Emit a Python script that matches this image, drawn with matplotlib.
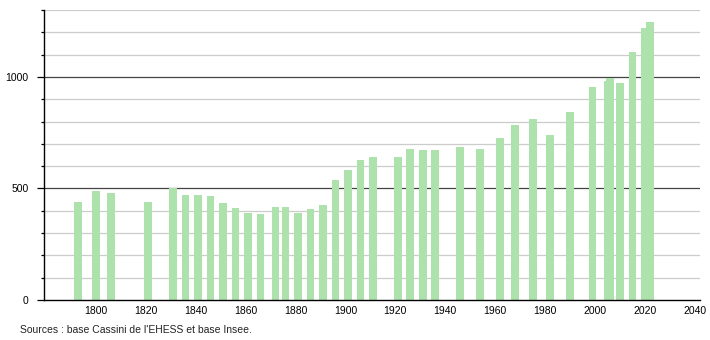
import matplotlib
matplotlib.use("Agg")
import matplotlib.pyplot as plt
from matplotlib.ticker import MultipleLocator, FixedLocator

years = [1793, 1800, 1806, 1821, 1831, 1836, 1841, 1846, 1851, 1856, 1861, 1866,
         1872, 1876, 1881, 1886, 1891, 1896, 1901, 1906, 1911, 1921, 1926, 1931,
         1936, 1946, 1954, 1962, 1968, 1975, 1982, 1990, 1999, 2005, 2006, 2010,
         2015, 2020, 2022]
population = [440, 490, 481, 440, 500, 470, 470, 467, 433, 412, 391, 385,
              415, 415, 391, 408, 426, 538, 582, 627, 641, 641, 675, 672,
              672, 685, 675, 726, 784, 811, 739, 842, 953, 981, 993, 971,
              1112, 1220, 1244]
x_ticks = [1800, 1820, 1840, 1860, 1880, 1900, 1920, 1940, 1960, 1980, 2000, 2020, 2040]
y_labels = [0, 500, 1000]
source = "Sources : base Cassini de l'EHESS et base Insee."

plt.rcParams['font.family'] = ['Liberation Sans', 'DejaVu Sans']

fig = plt.figure(figsize=(7.1, 3.4), dpi=100)
ax = fig.add_axes([44/710, 40/340, 656/710, 290/340])

ax.set_xlim(1779.3, 2042)
ax.set_ylim(0, 1300)

# gridlines
for v in range(100, 1301, 100):
    if v % 500 == 0:
        ax.axhline(v, color='#444444', lw=0.9, zorder=1)
    else:
        ax.axhline(v, color='#cccccc', lw=0.9, zorder=1)

ax.bar(years, population, width=3.1, color='#ade2ad', zorder=2, linewidth=0)

for s in ['top', 'right']:
    ax.spines[s].set_visible(False)
ax.spines['left'].set_color('black')
ax.spines['bottom'].set_color('black')
ax.spines['left'].set_linewidth(1.0)
ax.spines['bottom'].set_linewidth(1.0)

ax.yaxis.set_major_locator(FixedLocator(y_labels))
ax.yaxis.set_minor_locator(MultipleLocator(100))
ax.set_yticklabels([str(v) for v in y_labels])
ax.tick_params(axis='y', which='major', length=5, width=0.9, color='black',
               labelsize=7.5, pad=6)
ax.tick_params(axis='y', which='minor', length=2.5, width=0.9, color='black')

ax.set_xticks(x_ticks)
ax.set_xticklabels([str(v) for v in x_ticks])
ax.tick_params(axis='x', length=0, labelsize=7.5, pad=4)

fig.text(20/710, 1 - 330/340, source, fontsize=7.5, ha='left', va='center', color='#222222')

fig.savefig('out.png', dpi=100)
